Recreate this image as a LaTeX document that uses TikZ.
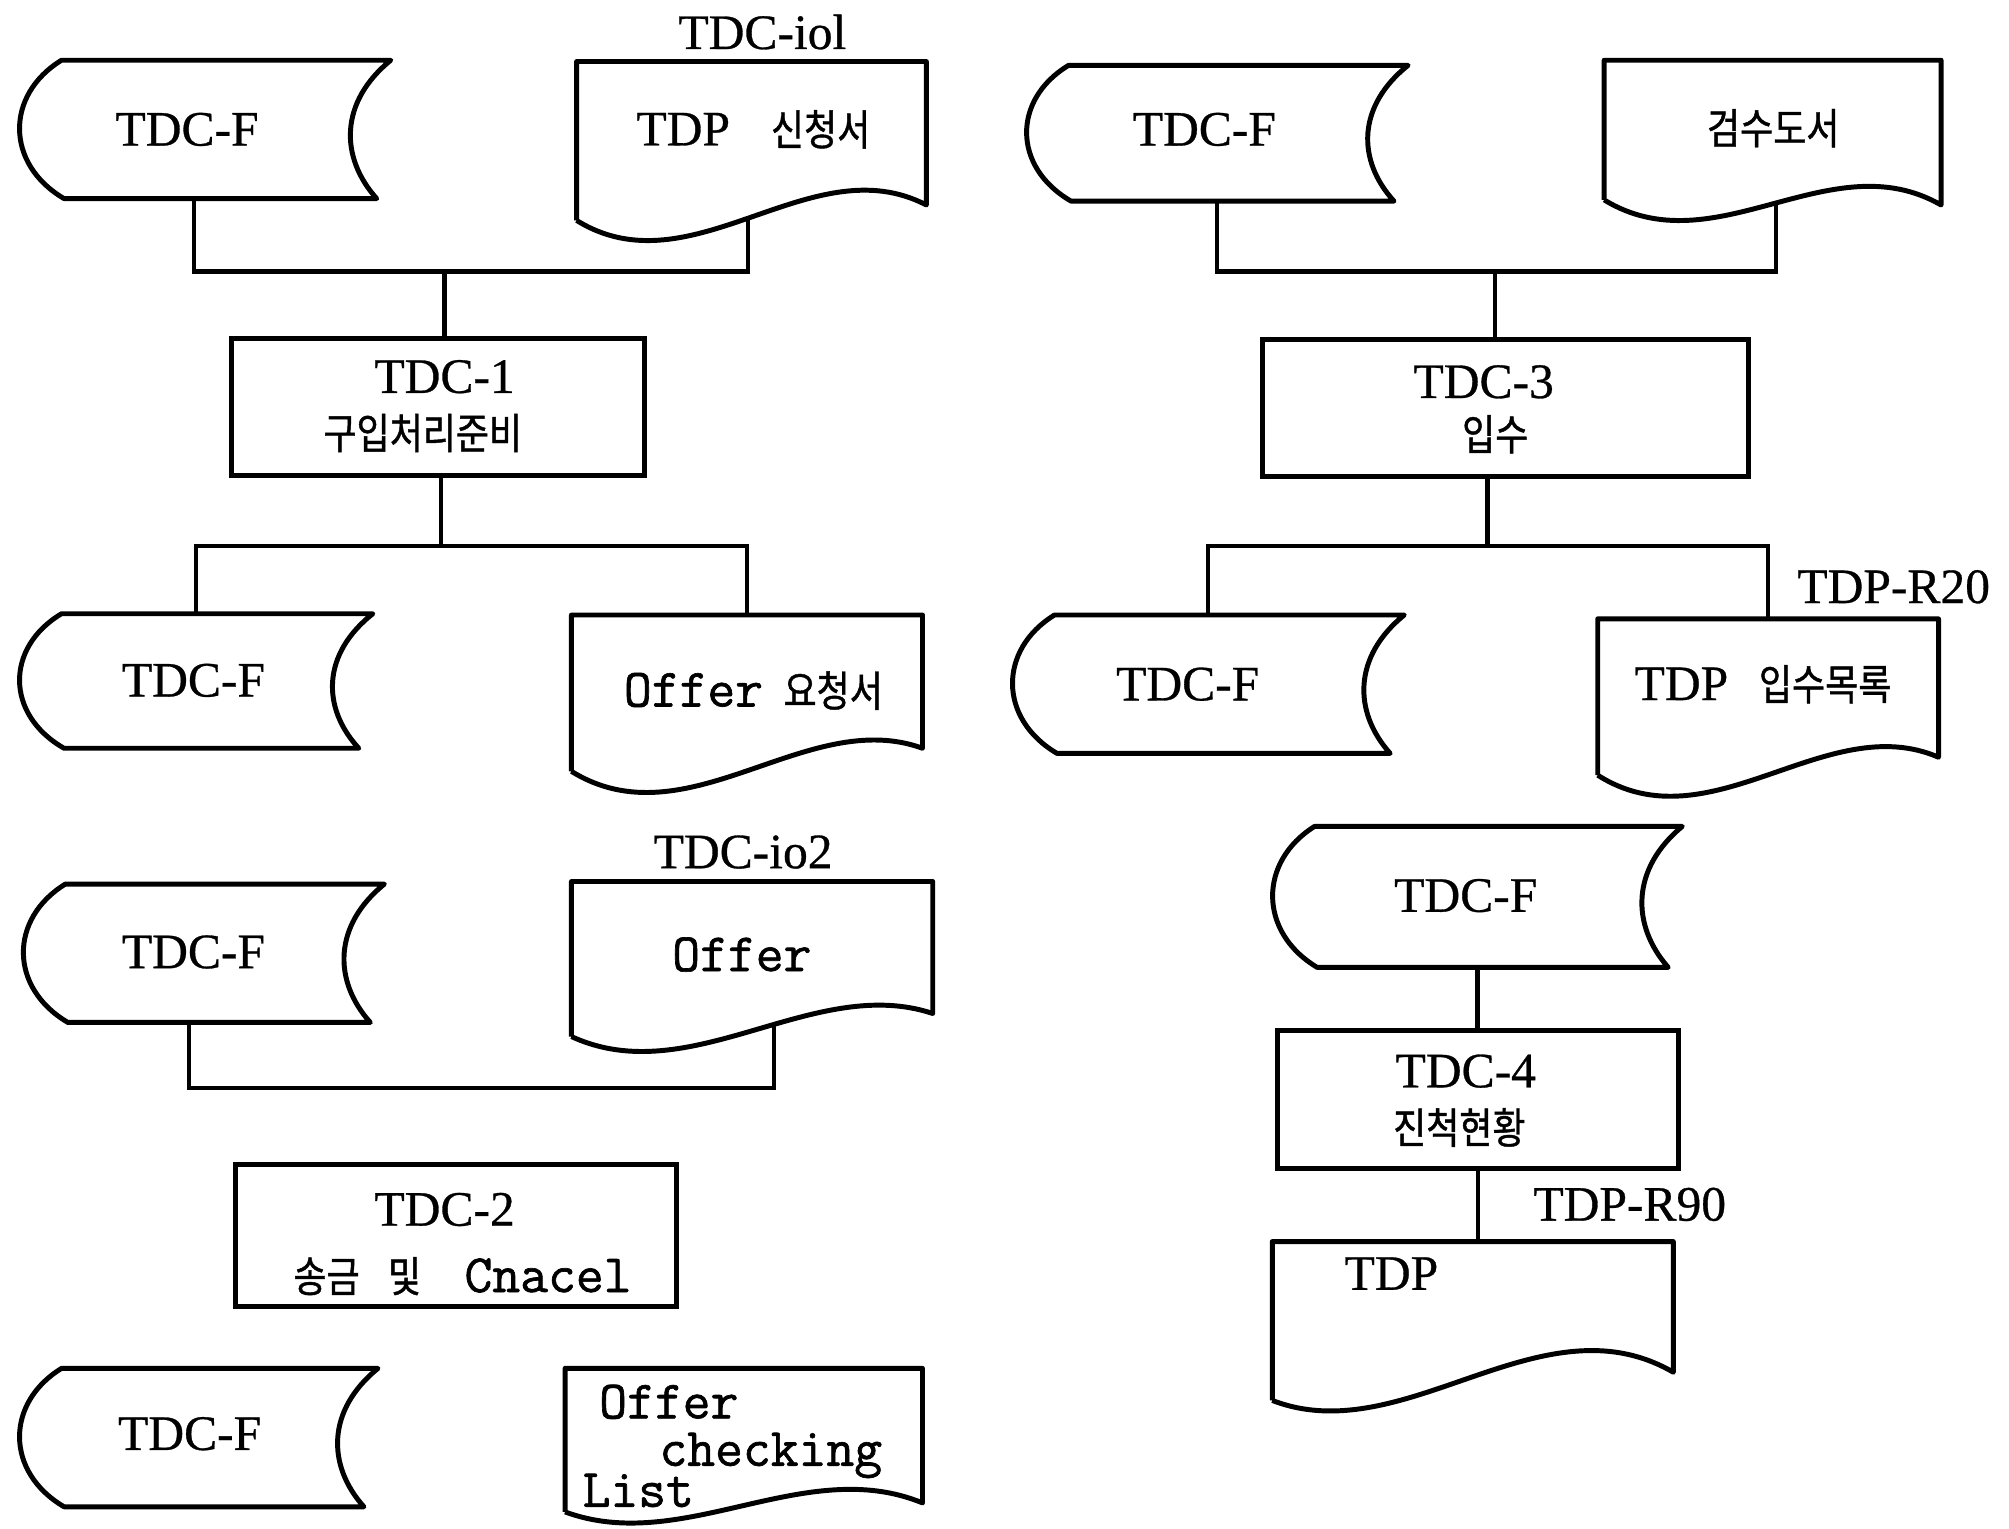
\documentclass[tikz,border=0pt]{standalone}
\usepackage{fontspec}
\usetikzlibrary{fit,calc}
\newfontfamily\sfont{Liberation Serif}[FakeBold=0.6]
\newfontfamily\tfont{Latin Modern Mono}[FakeBold=1.2]
\newfontfamily\kfont{Noto Sans CJK KR}[FakeStretch=0.85,FakeBold=1]
\newcommand\ks[1]{{\fontsize{9.4}{11}\kfont#1}}
\tikzset{
  shp/.style={line width=1.1pt, line join=round},
  conn/.style={line width=1pt},
  area/.style={inner sep=0pt},
  procbox/.style={draw, line width=1.1pt, inner sep=0pt},
  lt/.style={font=\fontsize{11}{13}\sfont, inner sep=0pt},
  tt/.style={font=\fontsize{12}{14}\tfont, inner sep=0pt},
}
% stored data: name x1 y1 x2 y2
\newcommand\SD[5]{%
  \node[area, fit={(#2,#3)(#4,#5)}] (#1) {};
  \draw[shp] ({#2+33},#3) -- (#4,#3)
    .. controls ({#4-40},{#3+0.3*(#5-#3)}) and ({#4-40},{#3+0.7*(#5-#3)}) .. ({#4-11},#5)
    -- ({#2+35},#5)
    .. controls ({#2-11},{#3+0.75*(#5-#3)}) and ({#2-11},{#3+0.25*(#5-#3)}) .. cycle;
}
% document: name x1 y1 x2 yb yRoff a b pos
\newcommand\DOC[9]{%
  \node[area, fit={(#2,#3)(#4,#5)}] (#1) {};
  \draw[shp] (#2,#5) -- (#2,#3) -- (#4,#3) -- (#4,{#5+#6})
    .. controls ({#2+0.67*(#4-#2)},{#5-#8}) and ({#2+0.33*(#4-#2)},{#5+#7}) .. (#2,#5)
    coordinate[pos=#9] (#1-b);
}
\begin{document}
\begin{tikzpicture}[x=0.1mm,y=-0.1mm]
\useasboundingbox (0,0) rectangle (1568,1193);

% ---------- left column ----------
\SD{sd1}{15}{47}{305}{155}
\DOC{doc1}{450}{48}{723}{172}{-12}{56}{59}{0.51}
\node[lt] (t-sd1) at (146,101) {TDC-F};
\node[lt] (t-doc1) at (588,101) {TDP\hspace{3.2mm}\ks{신청서}};
\node[lt] (l-io1) at (595,25) {TDC-iol};

\node[procbox, fit={(181,264)(503,371)}] (box1) {};
\node[lt] (t-box1a) at (347,294) {TDC-1};
\node[lt] (t-box1b) at (330,338) {\ks{구입처리준비}};

\coordinate (j1) at (347,212);
\draw[conn] ($(sd1.south west)!0.47!(sd1.south east)$) |- (j1) -| (doc1-b);
\draw[conn] (j1) -- (j1 |- box1.north);

\SD{sd2}{15}{479}{291}{584}
\DOC{doc2}{446}{480}{720}{602}{-18}{56}{51}{0.5}
\node[lt] (t-sd2) at (151,531) {TDC-F};
\node[tt] (t-doc2) at (588,539) {Offer\hspace{1.6mm}\ks{요청서}};

\coordinate (j2) at (344,426);
\draw[conn] (j2 |- box1.south) -- (j2);
\draw[conn] (sd2.north) |- (j2) -| (doc2.north);

\SD{sd3}{18}{690}{300}{798}
\DOC{doc3}{446}{688}{728}{809}{-18}{43}{49}{0.44}
\node[lt] (t-sd3) at (151,743) {TDC-F};
\node[tt] (t-doc3) at (579,745) {Offer};
\node[lt] (l-io2) at (580,665) {TDC-io2};

\coordinate (j3) at (360,849);
\draw[conn] ($(sd3.south west)!0.46!(sd3.south east)$) |- (j3) -| (doc3-b);

\node[procbox, fit={(184,909)(528,1020)}] (box2) {};
\node[lt] (t-box2a) at (347,944) {TDC-2};
\node[tt] (t-box2b) at (361,996) {\ks{송금}\hspace{2.2mm}\ks{및}\hspace{3.4mm}Cnacel};

\SD{sd4}{15}{1068}{295}{1176}
\DOC{doc4}{441}{1068}{720}{1180}{-7}{34}{45}{0.5}
\node[lt] (t-sd4) at (148,1119) {TDC-F};
\node[tt, anchor=base west] (t-doc4a) at (467,1107) {Offer};
\node[tt, anchor=base west] (t-doc4b) at (514,1144) {checking};
\node[tt, anchor=base west] (t-doc4c) at (454,1176) {List};

% ---------- right column ----------
\SD{sd5}{801}{51}{1099}{157}
\DOC{doc5}{1252}{47}{1515}{156}{4}{53}{46}{0.49}
\node[lt] (t-sd5) at (940,101) {TDC-F};
\node[lt] (t-doc5) at (1384,100) {\ks{검수도서}};

\node[procbox, fit={(985,265)(1365,372)}] (box3) {};
\node[lt] (t-box3a) at (1158,298) {TDC-3};
\node[lt] (t-box3b) at (1167,339) {\ks{입수}};

\coordinate (j4) at (1167,212);
\draw[conn] (sd5.south) |- (j4) -| (doc5-b);
\draw[conn] (j4) -- (j4 |- box3.north);

\SD{sd6}{790}{480}{1096}{588}
\DOC{doc6}{1247}{483}{1513}{605}{-14}{56}{52}{0.5}
\node[lt] (t-sd6) at (927,534) {TDC-F};
\node[lt] (t-doc6) at (1376,534) {TDP\hspace{2.4mm}\ks{입수목록}};
\node[lt] (l-r20) at (1478,458) {TDP-R20};

\coordinate (j5) at (1161,426);
\draw[conn] (j5 |- box3.south) -- (j5);
\draw[conn] (sd6.north) |- (j5) -| (doc6.north);

\SD{sd7}{993}{645}{1313}{755}
\node[lt] (t-sd7) at (1144,699) {TDC-F};

\node[procbox, fit={(997,804)(1310,912)}] (box4) {};
\node[lt] (t-box4a) at (1144,836) {TDC-4};
\node[lt] (t-box4b) at (1139,880) {\ks{진척현황}};
\draw[conn] (sd7.south) -- (sd7.south |- box4.north);

\DOC{doc7}{993}{969}{1306}{1093}{-22}{40}{82}{0.5}
\node[lt] (t-doc7) at (1086,994) {TDP};
\node[lt] (l-r90) at (1272,940) {TDP-R90};
\draw[conn] (box4.south) -- (box4.south |- doc7.north);
\end{tikzpicture}
\end{document}
